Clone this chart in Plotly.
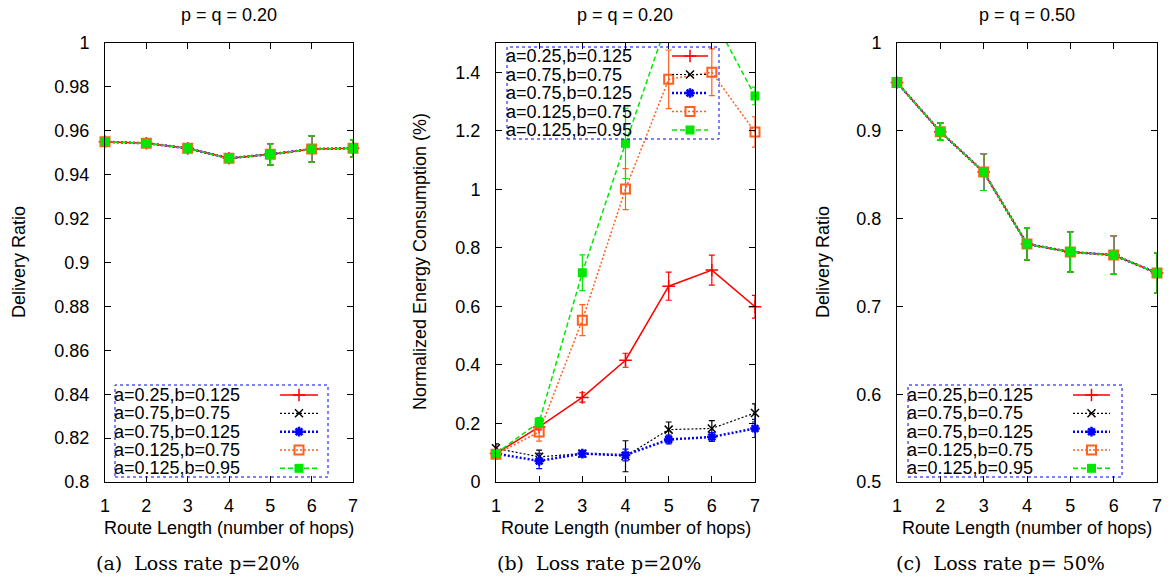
import plotly.graph_objects as go

W, H = 1168, 578

# ---------------- data ----------------
hops = [1, 2, 3, 4, 5, 6, 7]
series_names = ["a=0.25,b=0.125", "a=0.75,b=0.75", "a=0.75,b=0.125",
                "a=0.125,b=0.75", "a=0.125,b=0.95"]

# (a) delivery ratio, p = q = 0.20 (all five settings coincide)
ratio20 = [0.955, 0.9543, 0.952, 0.9475, 0.9493, 0.9517, 0.952]
ratio20_err = [0.001, 0.001, 0.001, 0.001, 0.0048, 0.006, 0.004]

# (b) normalized energy consumption, p = q = 0.20
energy_s1 = [0.097, 0.188, 0.289, 0.416, 0.669, 0.724, 0.599]
energy_s1_err = [0.010, 0.010, 0.016, 0.024, 0.048, 0.051, 0.039]
energy_s2 = [0.115, 0.086, 0.097, 0.088, 0.179, 0.183, 0.236]
energy_s2_err = [0.015, 0.023, 0.010, 0.053, 0.026, 0.027, 0.031]
energy_s3 = [0.097, 0.072, 0.097, 0.092, 0.145, 0.154, 0.183]
energy_s3_err = [0.010, 0.026, 0.010, 0.020, 0.015, 0.015, 0.031]
energy_s4 = [0.095, 0.171, 0.553, 1.001, 1.376, 1.400, 1.196]
energy_s4_err = [0.010, 0.031, 0.053, 0.070, 0.100, 0.080, 0.052]
energy_s5 = [0.097, 0.205, 0.715, 1.157, 1.586, 1.595, 1.319]
energy_s5_err = [0.010, 0.015, 0.061, 0.120, 0.050, 0.050, 0.030]

# (c) delivery ratio, p = q = 0.50 (all five settings coincide)
ratio50 = [0.955, 0.899, 0.853, 0.771, 0.762, 0.7585, 0.738]
ratio50_err = [0.003, 0.010, 0.021, 0.018, 0.023, 0.022, 0.023]

# tick labels
x_ticks = [1, 2, 3, 4, 5, 6, 7]
ya_ticks = [0.8, 0.82, 0.84, 0.86, 0.88, 0.9, 0.92, 0.94, 0.96, 0.98, 1.0]
ya_text = ["0.8", "0.82", "0.84", "0.86", "0.88", "0.9", "0.92", "0.94", "0.96", "0.98", "1"]
yb_ticks = [0, 0.2, 0.4, 0.6, 0.8, 1.0, 1.2, 1.4]
yb_text = ["0", "0.2", "0.4", "0.6", "0.8", "1", "1.2", "1.4"]
yc_ticks = [0.5, 0.6, 0.7, 0.8, 0.9, 1.0]
yc_text = ["0.5", "0.6", "0.7", "0.8", "0.9", "1"]

titles = ["p = q = 0.20", "p = q = 0.20", "p = q = 0.50"]
ylabels = ["Delivery Ratio", "Normalized Energy Consumption (%)", "Delivery Ratio"]
xlabel = "Route Length (number of hops)"
captions = ["(a)  Loss rate p=20%", "(b)  Loss rate p=20%", "(c)  Loss rate p= 50%"]

# ---------------- styles ----------------
colors = ["#ff0000", "#000000", "#0000ff", "#ff5f1f", "#00e800"]
widths = [1.5, 1.2, 2.5, 1.5, 1.5]
dashes = ["solid", "2px,2px", "2px,2px", "2px,2px", "5px,3px"]
symbols = ["cross-thin-open", "x-thin-open", "asterisk-open", "square-open", "square"]
msizes = [9, 8, 8, 9, 9]
mlw = [1.5, 1.5, 2.5, 2, 0]

SANS = "Liberation Sans, Arial, sans-serif"
SERIF = "DejaVu Serif, serif"
FS = 18

def px(v):
    return v / W

def py(v):
    return 1 - v / H

panels = [
    dict(ax="", x0=105, x1=353, yr=[0.8, 1.0], yt=ya_ticks, ytt=ya_text,
         data=[(ratio20, ratio20_err)] * 5,
         title_x=229, ylab_x=19, cap_x=197,
         legend=dict(box=(115, 385, 328, 477), tx=113, ry0=395, rstep=18.33, sx=(280, 318))),
    dict(ax="2", x0=496, x1=755, yr=[0, 1.5], yt=yb_ticks, ytt=yb_text,
         data=[(energy_s1, energy_s1_err), (energy_s2, energy_s2_err),
               (energy_s3, energy_s3_err), (energy_s4, energy_s4_err),
               (energy_s5, energy_s5_err)],
         title_x=625, ylab_x=420, cap_x=599,
         legend=dict(box=(507, 47, 719, 139), tx=505, ry0=56, rstep=18.5, sx=(672, 708))),
    dict(ax="3", x0=897, x1=1157, yr=[0.5, 1.0], yt=yc_ticks, ytt=yc_text,
         data=[(ratio50, ratio50_err)] * 5,
         title_x=1027, ylab_x=823, cap_x=1000,
         legend=dict(box=(908, 385, 1122, 477), tx=906, ry0=395, rstep=18.33, sx=(1073, 1110))),
]

TOP, BOT = 43, 482

fig = go.Figure()
annotations = []
shapes = []

for k, p in enumerate(panels):
    xa = "x" + p["ax"]
    ya = "y" + p["ax"]
    lo, hi = p["yr"]
    for i, (vals, errs) in enumerate(p["data"]):
        fig.add_trace(go.Scatter(
            x=hops, y=vals, mode="lines", xaxis=xa, yaxis=ya,
            line=dict(color=colors[i], width=widths[i], dash=dashes[i]),
            showlegend=False, hoverinfo="skip"))
        shown = [v if lo <= v <= hi else None for v in vals]
        fig.add_trace(go.Scatter(
            x=hops, y=shown, mode="markers", xaxis=xa, yaxis=ya,
            cliponaxis=False, name=series_names[i], showlegend=False,
            marker=dict(symbol=symbols[i], size=msizes[i], color=colors[i],
                        line=dict(color=colors[i], width=mlw[i])),
            error_y=dict(type="data", array=errs, visible=True,
                         color=colors[i], thickness=1.2, width=3)))
    annotations.append(dict(text=titles[k], x=px(p["title_x"]), y=py(15),
                            xref="paper", yref="paper", showarrow=False,
                            xanchor="center", yanchor="middle",
                            font=dict(family=SANS, size=FS, color="#000")))
    annotations.append(dict(text=ylabels[k], x=px(p["ylab_x"]), y=py(262),
                            xref="paper", yref="paper", showarrow=False, textangle=-90,
                            xanchor="center", yanchor="middle",
                            font=dict(family=SANS, size=FS, color="#000")))
    annotations.append(dict(text=xlabel, x=px((p["x0"] + p["x1"]) / 2), y=py(528),
                            xref="paper", yref="paper", showarrow=False,
                            xanchor="center", yanchor="middle",
                            font=dict(family=SANS, size=FS, color="#000")))
    annotations.append(dict(text=captions[k], x=px(p["cap_x"]), y=py(563),
                            xref="paper", yref="paper", showarrow=False,
                            xanchor="center", yanchor="middle",
                            font=dict(family=SERIF, size=19, color="#000")))
    # legend (gnuplot style: text left, sample right)
    lg = p["legend"]
    bx0, by0, bx1, by1 = lg["box"]
    shapes.append(dict(type="rect", xref="paper", yref="paper",
                       x0=px(bx0), x1=px(bx1), y0=py(by1), y1=py(by0),
                       line=dict(color="#0000ff", width=1, dash="dot")))
    for i, nm in enumerate(series_names):
        ry = lg["ry0"] + i * lg["rstep"]
        annotations.append(dict(text=nm, x=px(lg["tx"]), y=py(ry),
                                xref="paper", yref="paper", showarrow=False,
                                xanchor="left", yanchor="middle", borderpad=0,
                                font=dict(family=SANS, size=FS, color="#000")))
        s0, s1 = lg["sx"]
        fig.add_trace(go.Scatter(
            x=[s0, s1], y=[ry, ry], mode="lines", xaxis="x4", yaxis="y4",
            line=dict(color=colors[i], width=widths[i], dash=dashes[i]),
            showlegend=False, hoverinfo="skip"))
        fig.add_trace(go.Scatter(
            x=[(s0 + s1) / 2], y=[ry], mode="markers", xaxis="x4", yaxis="y4",
            marker=dict(symbol=symbols[i], size=msizes[i], color=colors[i],
                        line=dict(color=colors[i], width=mlw[i])),
            showlegend=False, hoverinfo="skip", cliponaxis=False))

axis_common = dict(showline=True, linecolor="#000", linewidth=1, mirror="ticks",
                   ticks="inside", ticklen=6, tickcolor="#000", tickwidth=1,
                   showgrid=False, zeroline=False, fixedrange=True, automargin=False,
                   tickfont=dict(family=SANS, size=FS, color="#000"))

layout = dict(width=W, height=H, autosize=False,
              margin=dict(l=0, r=0, t=0, b=0, pad=0, autoexpand=False),
              paper_bgcolor="#fff", plot_bgcolor="rgba(0,0,0,0)",
              showlegend=False, annotations=annotations, shapes=shapes)

for p in panels:
    k = p["ax"]
    layout["xaxis" + k] = dict(domain=[px(p["x0"]), px(p["x1"])], range=[1, 7],
                               tickvals=x_ticks, ticklabelstandoff=7,
                               anchor="y" + k, **axis_common)
    layout["yaxis" + k] = dict(domain=[py(BOT), py(TOP)], range=p["yr"],
                               tickvals=p["yt"], ticktext=p["ytt"], ticklabelstandoff=11,
                               anchor="x" + k, **axis_common)

layout["xaxis4"] = dict(domain=[0, 1], range=[0, W], visible=False, fixedrange=True, anchor="y4")
layout["yaxis4"] = dict(domain=[0, 1], range=[H, 0], visible=False, fixedrange=True, anchor="x4")

fig.update_layout(**layout)
fig.write_html("out.html")
